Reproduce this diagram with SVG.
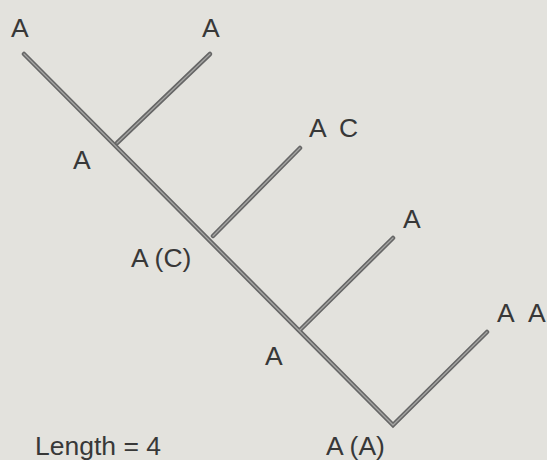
<svg xmlns="http://www.w3.org/2000/svg" width="547" height="460" viewBox="0 0 547 460">
<style>
.bg{fill:#e3e2dd}
.o{fill:none;stroke:#666;stroke-width:4.5;stroke-linecap:round;stroke-linejoin:miter}
.i{fill:none;stroke:#a5a5a3;stroke-width:1.3;stroke-linecap:round}
text{font-family:"Liberation Sans",Arial,sans-serif;font-size:26.5px;fill:#383838}
</style>
<rect class="bg" x="0" y="0" width="547" height="460"/>
<g id="connectors">
<path class="o" d="M24,54 L393,425 L487,332"/>
<path class="o" d="M117,143 L210,54"/>
<path class="o" d="M213,236 L300,148"/>
<path class="o" d="M300,330 L393,238"/>
<path class="i" d="M24,54 L393,425 L487,332"/>
<path class="i" d="M117,143 L210,54"/>
<path class="i" d="M213,236 L300,148"/>
<path class="i" d="M300,330 L393,238"/>
</g>
<g id="n1"><text x="11" y="37">A</text></g>
<g id="n2"><text x="202" y="37">A</text></g>
<g id="n3"><text x="73" y="169">A</text></g>
<g id="n4"><text x="309" y="137">A<tspan x="339">C</tspan></text></g>
<g id="n5"><text x="131" y="267">A (C)</text></g>
<g id="n6"><text x="403" y="228">A</text></g>
<g id="n7"><text x="265" y="365">A</text></g>
<g id="n8"><text x="497" y="322">A<tspan x="528">A</tspan></text></g>
<g id="n9"><text x="326" y="455">A (A)</text></g>
<g id="label"><text x="35" y="455">Length = 4</text></g>
</svg>
